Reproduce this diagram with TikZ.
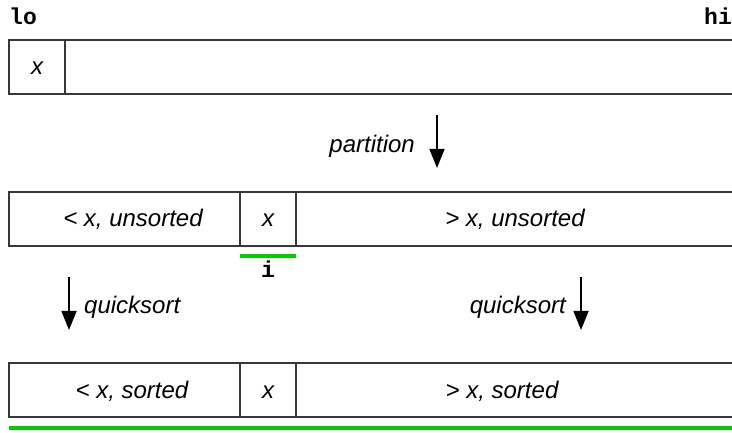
\documentclass[tikz,border=0pt]{standalone}
\usepackage{fontspec}
\setmainfont{Liberation Sans}
\newfontfamily\codefont{Liberation Mono}
\usetikzlibrary{arrows.meta}
\begin{document}
\begin{tikzpicture}[x=1pt,y=-1pt,
  cell/.style={draw=black!78,line width=2pt},
  lbl/.style={font=\fontsize{24}{27}\selectfont\itshape,inner sep=0pt,anchor=base},
  code/.style={font=\fontsize{23}{26}\selectfont\codefont\bfseries,inner sep=0pt,anchor=base},
  flow/.style={line width=1.5pt,-{Triangle[length=19pt,width=15pt]}},
  greenbar/.style={draw=green!80!black,line width=4.5pt}]
\useasboundingbox (0,0) rectangle (732,433);
\clip (0,0) rectangle (732,433);
% top array: x in the first slot
\draw[cell] (740,40) -- (9,40) -- (9,94) -- (740,94);
\draw[cell] (65,40) -- (65,94);
\node[lbl] (x0) at (37,75) {x};
\node[code,anchor=base west] (lo) at (9,25) {lo};
\node[code,anchor=base east] (hi) at (732,25) {hi};
% partition step
\coordinate (p1) at (437,115);
\coordinate (p2) at (437,168);
\draw[flow] (p1) -- (p2);
\node[lbl,anchor=base east] (part) at (415,153) {partition};
% partitioned array
\draw[cell] (740,192) -- (9,192) -- (9,246) -- (740,246);
\draw[cell] (240,192) -- (240,246);
\draw[cell] (296,192) -- (296,246);
\node[lbl] (lu) at (133,227) {< x, unsorted};
\node[lbl] (x1) at (268,227) {x};
\node[lbl] (gu) at (515,227) {> x, unsorted};
\coordinate (i1) at (240,256);
\coordinate (i2) at (296,256);
\draw[greenbar] (i1) -- (i2);
\node[code] (i) at (268,278) {i};
% recursive calls
\coordinate (q1) at (69,277);
\coordinate (q2) at (69,330);
\draw[flow] (q1) -- (q2);
\node[lbl,anchor=base west] (ql) at (84,313) {quicksort};
\coordinate (r1) at (581,277);
\coordinate (r2) at (581,330);
\draw[flow] (r1) -- (r2);
\node[lbl,anchor=base east] (qr) at (566,313) {quicksort};
% sorted array
\draw[cell] (740,363) -- (9,363) -- (9,417) -- (740,417);
\draw[cell] (240,363) -- (240,417);
\draw[cell] (296,363) -- (296,417);
\node[lbl] (ls) at (132,398) {< x, sorted};
\node[lbl] (x2) at (268,398) {x};
\node[lbl] (gs) at (502,398) {> x, sorted};
\coordinate (s1) at (9,428);
\coordinate (s2) at (740,428);
\draw[greenbar] (s1) -- (s2);
\end{tikzpicture}
\end{document}
